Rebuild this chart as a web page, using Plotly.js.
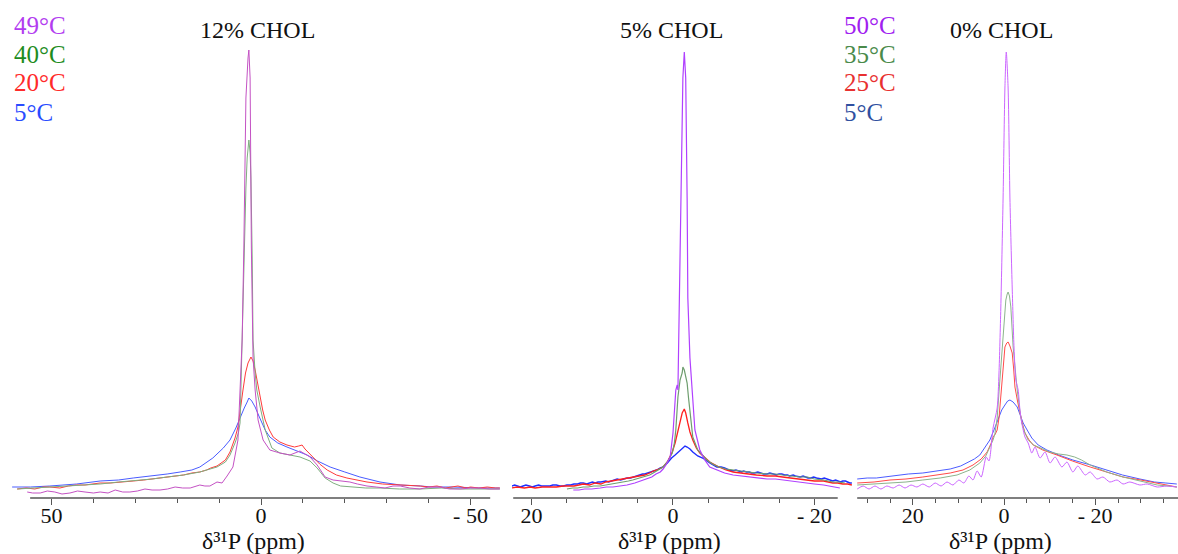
<!DOCTYPE html>
<html>
<head>
<meta charset="utf-8">
<script src="https://cdn.plot.ly/plotly-3.0.1.min.js"></script>
<style>html,body{margin:0;padding:0;background:#fff;}#chart{width:1178px;height:554px;}</style>
</head>
<body>
<div id="chart"></div>
<script>
// ---------- Panel 1: 12% CHOL (ppm / intensity) ----------
const p1_5C_x = [59.4, 55.0, 50.4, 44.0, 38.4, 34.0, 30.5, 26.0, 22.4, 19.3, 16.5, 14.6, 11.5, 9.0, 7.4, 6.0, 5.0, 4.0, 3.3, 2.9, 2.2, 1.4, 0.5, -0.2, -1.0, -2.1, -4.0, -6.2, -8.5, -11.0, -13.5, -16.5, -20.0, -23.6, -28.4, -33.2, -38.0, -41.0, -46.0, -52.0, -57.0];
const p1_5C_y = [11, 11, 12, 14, 17, 18, 20, 22, 24, 26, 28, 31, 40, 50, 58, 70, 81, 90, 96, 100, 97, 91, 82, 75, 68, 61, 55, 51, 47, 43, 37, 31, 26, 21, 16, 13, 12, 11, 11, 10, 10];
const p1_20C_x = [58.2, 56.0, 54.0, 52.0, 50.4, 48.0, 46.0, 44.0, 42.0, 40.0, 38.4, 36.0, 34.0, 32.0, 30.5, 28.0, 26.0, 24.0, 22.4, 20.5, 18.5, 16.5, 14.6, 13.0, 12.0, 10.5, 9.5, 8.5, 7.4, 6.2, 5.5, 4.8, 4.3, 3.7, 3.1, 2.4, 1.9, 1.4, 0.8, 0.2, -0.4, -1.0, -2.0, -2.9, -4.5, -6.2, -8.0, -9.0, -9.8, -10.5, -11.5, -12.4, -14.0, -15.8, -18.0, -20.5, -23.0, -25.3, -29.0, -33.2, -36.0, -38.0, -40.0, -42.0, -44.0, -45.1, -47.0, -49.0, -50.0, -52.0, -54.0, -56.0, -57.0];
const p1_20C_y = [9, 10, 9, 11, 11, 10, 12, 13, 13, 14, 15, 15, 16, 17, 17, 18, 19, 20, 21, 22, 23, 25, 26, 28, 30, 32, 35, 38, 46, 60, 71, 90, 108, 125, 135, 141, 137, 128, 114, 101, 88, 78, 68, 61, 56, 53, 51, 52, 53, 49, 45, 41, 34, 28, 23, 20, 18, 16, 14, 13, 13, 12, 11, 12, 10, 11, 12, 10, 11, 10, 11, 10, 10];
const p1_40C_x = [58.2, 54.0, 50.4, 46.0, 42.0, 38.4, 34.0, 30.5, 26.0, 22.4, 18.5, 14.6, 12.0, 10.5, 8.5, 7.4, 6.2, 5.4, 5.0, 4.5, 4.1, 3.6, 3.3, 2.9, 2.6, 2.4, 2.1, 1.9, 1.4, 1.0, 0.2, -1.0, -2.6, -4.5, -6.9, -9.3, -11.7, -13.4, -15.3, -17.2, -19.0, -21.2, -25.0, -28.4, -33.0, -38.0, -43.0, -48.0, -53.0, -57.0];
const p1_40C_y = [9, 10, 11, 12, 13, 14, 16, 17, 19, 21, 23, 26, 29, 31, 36, 43, 55, 65, 75, 158, 250, 310, 340, 358, 345, 320, 240, 158, 125, 108, 91, 68, 50, 45, 43, 41, 37, 30, 20, 15, 12, 11, 10, 10, 9, 9, 10, 9, 9, 9];
const p1_49C_x = [55.8, 54.5, 52.7, 51.0, 49.2, 47.5, 45.6, 43.8, 42.0, 40.0, 38.4, 36.5, 34.8, 33.0, 31.3, 29.5, 27.7, 26.0, 24.1, 22.3, 20.5, 18.7, 16.9, 14.6, 13.4, 12.2, 10.5, 9.3, 8.1, 6.7, 5.5, 4.5, 4.1, 3.6, 3.1, 2.9, 2.6, 2.3, 1.9, 1.4, 0.7, -0.5, -2.1, -4.5, -6.9, -8.2, -9.3, -10.5, -11.7, -13.4, -15.3, -17.2, -19.0, -21.2, -23.0, -25.3, -27.5, -29.6, -31.5, -33.2, -35.5, -37.9, -40.0, -42.7, -45.0, -47.5, -50.0, -52.3, -54.5, -57.0];
const p1_49C_y = [6, 5, 5, 7, 6, 4, 5, 7, 6, 5, 6, 5, 8, 6, 6, 7, 9, 8, 8, 9, 11, 10, 10, 13, 12, 12, 16, 15, 22, 31, 58, 158, 250, 400, 440, 448, 420, 250, 140, 108, 78, 58, 48, 45, 43, 45, 47, 44, 41, 33, 21, 18, 17, 16, 14, 12, 11, 10, 12, 12, 10, 9, 11, 11, 9, 9, 10, 10, 9, 9];

// ---------- Panel 2: 5% CHOL ----------
const p2_5C_x = [22.8, 22.4, 22.0, 21.6, 21.2, 20.8, 20.3, 19.9, 19.5, 19.0, 18.6, 18.0, 17.4, 17.0, 16.5, 16.0, 15.5, 15.0, 14.5, 14.0, 13.5, 13.1, 12.7, 12.2, 11.8, 11.4, 11.0, 10.6, 10.2, 9.8, 9.5, 9.1, 8.7, 8.3, 7.9, 7.4, 7.0, 6.5, 6.0, 5.6, 5.1, 4.7, 4.3, 4.0, 3.6, 3.3, 2.8, 2.3, 1.8, 1.4, 0.8, 0.2, -0.3, -1.0, -1.4, -1.7, -2.0, -2.4, -2.8, -3.5, -4.2, -5.2, -6.2, -6.8, -7.3, -7.9, -8.5, -8.9, -9.3, -9.7, -10.0, -10.4, -10.8, -11.1, -11.5, -12.0, -12.4, -12.8, -13.3, -13.7, -14.2, -14.6, -15.0, -15.4, -15.8, -16.2, -16.5, -17.0, -17.3, -17.7, -18.0, -18.4, -18.8, -19.1, -19.5, -19.9, -20.3, -20.7, -21.0, -21.4, -21.8, -22.2, -22.6, -23.0, -23.3, -23.7, -24.0, -24.4, -24.7, -25.0, -25.3];
const p2_5C_y = [12, 13, 12, 11, 12, 13, 12, 11, 12, 13, 12, 12, 12, 13, 13, 12, 12, 13, 13, 14, 14, 15, 15, 14, 15, 16, 15, 16, 16, 17, 17, 16, 17, 18, 19, 18, 19, 20, 20, 21, 22, 23, 24, 24, 25, 25, 27, 28, 30, 31, 35, 40, 43, 48, 50, 52, 51, 49, 46, 42, 40, 35, 31, 31, 30, 28, 27, 28, 27, 26, 27, 26, 26, 25, 25, 26, 25, 24, 24, 25, 24, 23, 24, 24, 23, 23, 22, 23, 22, 21, 21, 22, 21, 20, 20, 21, 20, 19, 19, 20, 19, 18, 17, 18, 17, 16, 17, 17, 16, 15, 15];
const p2_20C_x = [22.8, 22.0, 21.0, 20.2, 19.5, 18.5, 17.4, 16.5, 15.5, 14.7, 14.0, 13.3, 12.7, 11.8, 11.0, 10.2, 9.5, 8.7, 7.9, 7.0, 6.0, 5.3, 4.7, 4.0, 3.3, 2.8, 2.3, 1.8, 1.4, 0.8, 0.1, -0.3, -0.6, -1.0, -1.3, -1.6, -1.8, -2.1, -2.4, -2.8, -3.3, -3.8, -4.5, -5.2, -6.5, -7.5, -8.5, -9.5, -10.5, -11.8, -13.3, -14.5, -15.5, -16.8, -18.0, -19.0, -20.0, -21.3, -22.6, -23.3, -24.0, -24.7, -25.3];
const p2_20C_y = [10, 11, 10, 11, 10, 11, 11, 11, 12, 12, 12, 13, 14, 13, 15, 14, 16, 17, 18, 19, 20, 21, 22, 23, 25, 27, 28, 30, 31, 36, 46, 55, 65, 76, 85, 89, 85, 75, 66, 58, 50, 45, 40, 36, 31, 28, 26, 25, 24, 23, 22, 22, 21, 20, 19, 18, 17, 17, 15, 15, 14, 14, 13];
const p2_40C_x = [15.0, 14.2, 13.5, 12.7, 12.0, 11.2, 10.3, 9.4, 8.5, 7.7, 7.0, 6.3, 5.7, 4.8, 4.0, 3.3, 2.8, 2.3, 1.8, 1.4, 0.8, 0.1, -0.2, -0.4, -0.7, -1.0, -1.3, -1.4, -1.6, -2.0, -2.2, -2.4, -2.8, -3.5, -4.2, -4.8, -5.6, -6.5, -7.5, -8.5, -9.5, -10.5, -11.8, -13.3, -14.5, -15.5, -16.8, -18.0, -19.0, -20.0, -21.3, -22.6, -23.5, -24.3];
const p2_40C_y = [9, 10, 10, 11, 11, 12, 12, 13, 14, 15, 16, 17, 18, 20, 21, 23, 25, 27, 29, 31, 36, 45, 55, 68, 101, 118, 125, 131, 128, 115, 100, 85, 61, 48, 42, 38, 34, 31, 29, 28, 27, 26, 25, 24, 24, 23, 22, 21, 21, 19, 18, 16, 16, 15];
const p2_49C_x = [14.1, 13.3, 12.5, 11.5, 10.3, 9.4, 8.5, 7.5, 6.5, 5.4, 4.2, 3.6, 3.0, 2.4, 1.8, 1.4, 1.0, 0.4, 0.0, -0.4, -0.6, -0.7, -0.8, -1.1, -1.4, -1.6, -1.8, -2.0, -2.1, -2.4, -2.7, -3.1, -3.8, -4.5, -5.2, -6.2, -7.3, -8.5, -9.8, -11.0, -12.2, -13.3, -14.5, -15.5, -16.8, -18.0, -19.0, -20.0, -21.3, -22.6, -23.6];
const p2_49C_y = [8, 8, 9, 9, 10, 11, 11, 12, 13, 15, 18, 19, 21, 24, 26, 29, 33, 41, 65, 108, 113, 108, 158, 300, 420, 446, 420, 300, 200, 140, 108, 68, 48, 38, 31, 28, 25, 23, 22, 21, 20, 19, 19, 18, 17, 16, 15, 14, 13, 11, 10];

// ---------- Panel 3: 0% CHOL ----------
const p3_5C_x = [32.2, 30.0, 28.0, 25.0, 21.0, 17.8, 14.5, 11.8, 9.5, 8.1, 6.5, 5.3, 4.2, 3.1, 2.2, 1.3, 0.5, -0.2, -0.8, -1.3, -2.0, -2.9, -3.6, -4.2, -5.2, -6.1, -7.5, -9.4, -12.0, -15.1, -19.0, -22.6, -26.0, -29.8, -33.0, -35.5, -37.9];
const p3_5C_y = [19, 20, 20, 22, 24, 25, 27, 29, 32, 35, 39, 43, 50, 58, 68, 78, 88, 93, 97, 98, 96, 91, 83, 75, 67, 60, 53, 48, 43, 38, 33, 28, 23, 19, 16, 15, 14];
const p3_25C_x = [32.2, 28.5, 25.0, 21.5, 17.8, 14.5, 11.8, 9.0, 6.8, 5.0, 3.7, 2.8, 2.4, 1.9, 1.5, 1.1, 0.7, 0.4, 0.0, -0.2, -0.6, -0.9, -1.3, -1.8, -2.1, -2.4, -3.0, -3.5, -4.0, -4.6, -5.5, -6.4, -8.5, -11.6, -15.0, -18.9, -22.5, -26.1, -30.0, -33.6, -36.0, -37.9];
const p3_25C_y = [15, 16, 18, 19, 21, 23, 25, 28, 33, 39, 46, 55, 61, 64, 68, 80, 98, 118, 140, 151, 155, 156, 152, 145, 130, 111, 96, 85, 75, 65, 58, 53, 48, 43, 37, 31, 26, 21, 18, 15, 13, 11];
const p3_35C_x = [32.2, 28.5, 25.0, 21.5, 17.8, 14.0, 10.3, 7.5, 5.3, 4.0, 3.1, 2.4, 2.0, 1.5, 0.9, 0.5, 0.2, -0.1, -0.4, -0.7, -0.9, -1.2, -1.5, -2.0, -2.4, -2.9, -3.4, -3.9, -4.6, -5.3, -6.5, -7.9, -10.0, -12.0, -13.8, -15.5, -17.0, -18.9, -22.5, -26.1, -30.0, -33.6, -36.0, -37.9];
const p3_35C_y = [13, 14, 15, 16, 18, 20, 23, 28, 35, 42, 51, 58, 64, 80, 118, 145, 168, 185, 198, 204, 206, 202, 191, 151, 130, 108, 90, 75, 65, 58, 53, 50, 46, 44, 43, 41, 38, 33, 26, 21, 17, 13, 12, 11];
const p3_50C_x = [32.2, 30.9, 29.6, 28.3, 27.0, 25.7, 24.3, 23.0, 21.7, 20.4, 19.1, 17.8, 16.4, 15.1, 13.8, 12.5, 11.2, 9.9, 8.8, 7.7, 6.8, 5.9, 5.0, 3.9, 3.3, 2.4, 1.5, 1.1, 0.7, 0.2, -0.2, -0.5, -0.9, -1.3, -1.8, -2.2, -2.6, -3.1, -3.5, -3.9, -4.6, -5.3, -6.1, -6.8, -7.9, -9.0, -10.1, -11.2, -12.7, -13.8, -15.1, -16.2, -17.8, -18.9, -20.4, -21.7, -23.2, -24.8, -26.1, -27.6, -29.8, -31.4, -33.6, -35.7, -37.9];
const p3_50C_y = [9, 12, 9, 12, 9, 12, 10, 13, 10, 13, 11, 14, 11, 15, 12, 16, 13, 18, 15, 22, 18, 27, 21, 41, 37, 70, 90, 125, 190, 300, 410, 446, 410, 300, 210, 150, 118, 108, 88, 75, 61, 55, 45, 51, 40, 46, 35, 41, 31, 36, 26, 32, 23, 26, 19, 21, 16, 18, 14, 16, 13, 14, 11, 12, 11];

// ---------- Text ----------
const panelTitles = ["12% CHOL", "5% CHOL", "0% CHOL"];
const legend12 = ["49°C", "40°C", "20°C", "5°C"];
const legend0 = ["50°C", "35°C", "25°C", "5°C"];
const axisTitle = "δ³¹P (ppm)";
const p1_tickvals = [50, 0, -50];
const p1_ticktext = ["50", "0", "- 50"];
const p1_minor = [40, 30, 20, 10, -10, -20, -30, -40];
const p2_tickvals = [20, 0, -20];
const p2_ticktext = ["20", "0", "- 20"];
const p2_minor = [15, 10, 5, -5, -10, -15];
const p3_tickvals = [20, 0, -20];
const p3_ticktext = ["20", "0", "- 20"];
const p3_minor = [30, 25, 15, 10, 5, -5, -10, -15, -25, -30, -35];

const FONT = "Liberation Serif, Times New Roman, serif";
function tr(x, y, xa, color, w) {
  return {x: x, y: y, xaxis: xa, yaxis: 'y', type: 'scatter', mode: 'lines',
          line: {color: color, width: w || 1}, hoverinfo: 'skip', showlegend: false};
}
const traces = [
  tr(p1_5C_x, p1_5C_y, 'x', '#4a5cff'),
  tr(p1_20C_x, p1_20C_y, 'x', '#ff3a3a'),
  tr(p1_40C_x, p1_40C_y, 'x', '#7fae7f'),
  tr(p1_49C_x, p1_49C_y, 'x', '#c452c4'),
  tr(p2_5C_x, p2_5C_y, 'x2', '#1f2eff', 1.4),
  tr(p2_20C_x, p2_20C_y, 'x2', '#ff2020', 1.3),
  tr(p2_40C_x, p2_40C_y, 'x2', '#6e9e6e', 1.2),
  tr(p2_49C_x, p2_49C_y, 'x2', '#b040ff', 1.2),
  tr(p3_5C_x, p3_5C_y, 'x3', '#4c5cff'),
  tr(p3_25C_x, p3_25C_y, 'x3', '#ff4a4a'),
  tr(p3_35C_x, p3_35C_y, 'x3', '#8cb48c'),
  Object.assign(tr(p3_50C_x, p3_50C_y, 'x3', '#cc66ff'), {line: {color: '#cc66ff', width: 1, shape: 'spline', smoothing: 0.7}})
];

function xaxis(domain, range, tv, tt, minor) {
  return {domain: domain, range: range, anchor: 'y', showline: false, showgrid: false, zeroline: false,
          tickmode: 'array', tickvals: tv, ticktext: tt, ticks: 'outside', ticklen: 6, tickwidth: 1, tickcolor: '#555',
          ticklabelstandoff: -8,
          tickfont: {family: FONT, size: 22, color: '#111'},
          minor: {tickmode: 'array', tickvals: minor, ticks: 'outside', ticklen: 4, tickwidth: 1, tickcolor: '#555', showgrid: false},
          fixedrange: true};
}

const W = 1178;
const annotations = [];
const titleX = [257, 671, 1001];
panelTitles.forEach((t, i) => annotations.push({text: t, xref: 'paper', yref: 'paper', x: titleX[i] / W, y: (498 - 30) / 498,
  xanchor: 'center', yanchor: 'middle', showarrow: false, font: {family: FONT, size: 24, color: '#111'}}));
const axTitleX = [253, 669, 1000];
axTitleX.forEach(px => annotations.push({text: axisTitle, xref: 'paper', yref: 'paper', x: px / W, y: (498 - 541) / 498,
  xanchor: 'center', yanchor: 'middle', showarrow: false, font: {family: FONT, size: 24, color: '#111'}}));
const legY = [26, 54, 82, 112];
const leg12Colors = ['#b23cf0', '#1e8c1e', '#ff2a2a', '#2a4cff'];
const leg0Colors = ['#a020f0', '#4a8a4a', '#e83030', '#3050a0'];
legend12.forEach((t, i) => annotations.push({text: t, xref: 'paper', yref: 'paper', x: 12 / W, y: (498 - legY[i]) / 498,
  xanchor: 'left', yanchor: 'middle', showarrow: false, font: {family: FONT, size: 25, color: leg12Colors[i]}}));
legend0.forEach((t, i) => annotations.push({text: t, xref: 'paper', yref: 'paper', x: 842 / W, y: (498 - legY[i]) / 498,
  xanchor: 'left', yanchor: 'middle', showarrow: false, font: {family: FONT, size: 25, color: leg0Colors[i]}}));

const axLine = (xref, a, b) => ({type: 'line', xref: xref, yref: 'paper', x0: a, x1: b, y0: 0, y1: 0,
  line: {color: '#555', width: 1.5}});

const layout = {
  width: 1178, height: 554,
  margin: {l: 0, r: 0, t: 0, b: 56},
  paper_bgcolor: '#fff', plot_bgcolor: 'rgba(0,0,0,0)',
  showlegend: false,
  xaxis: xaxis([12 / W, 500 / W], [59.43, -57.04], p1_tickvals, p1_ticktext, p1_minor),
  xaxis2: xaxis([512 / W, 852 / W], [22.77, -25.32], p2_tickvals, p2_ticktext, p2_minor),
  xaxis3: xaxis([856 / W, 1], [32.46, -38.16], p3_tickvals, p3_ticktext, p3_minor),
  yaxis: {domain: [0, 1], range: [0, 498], visible: false, fixedrange: true},
  shapes: [axLine('x', 55.1, -54.7), axLine('x2', 22.6, -23.3), axLine('x3', 32.2, -38.2)],
  annotations: annotations
};

Plotly.newPlot('chart', traces, layout, {displayModeBar: false, staticPlot: true});
</script>
</body>
</html>
